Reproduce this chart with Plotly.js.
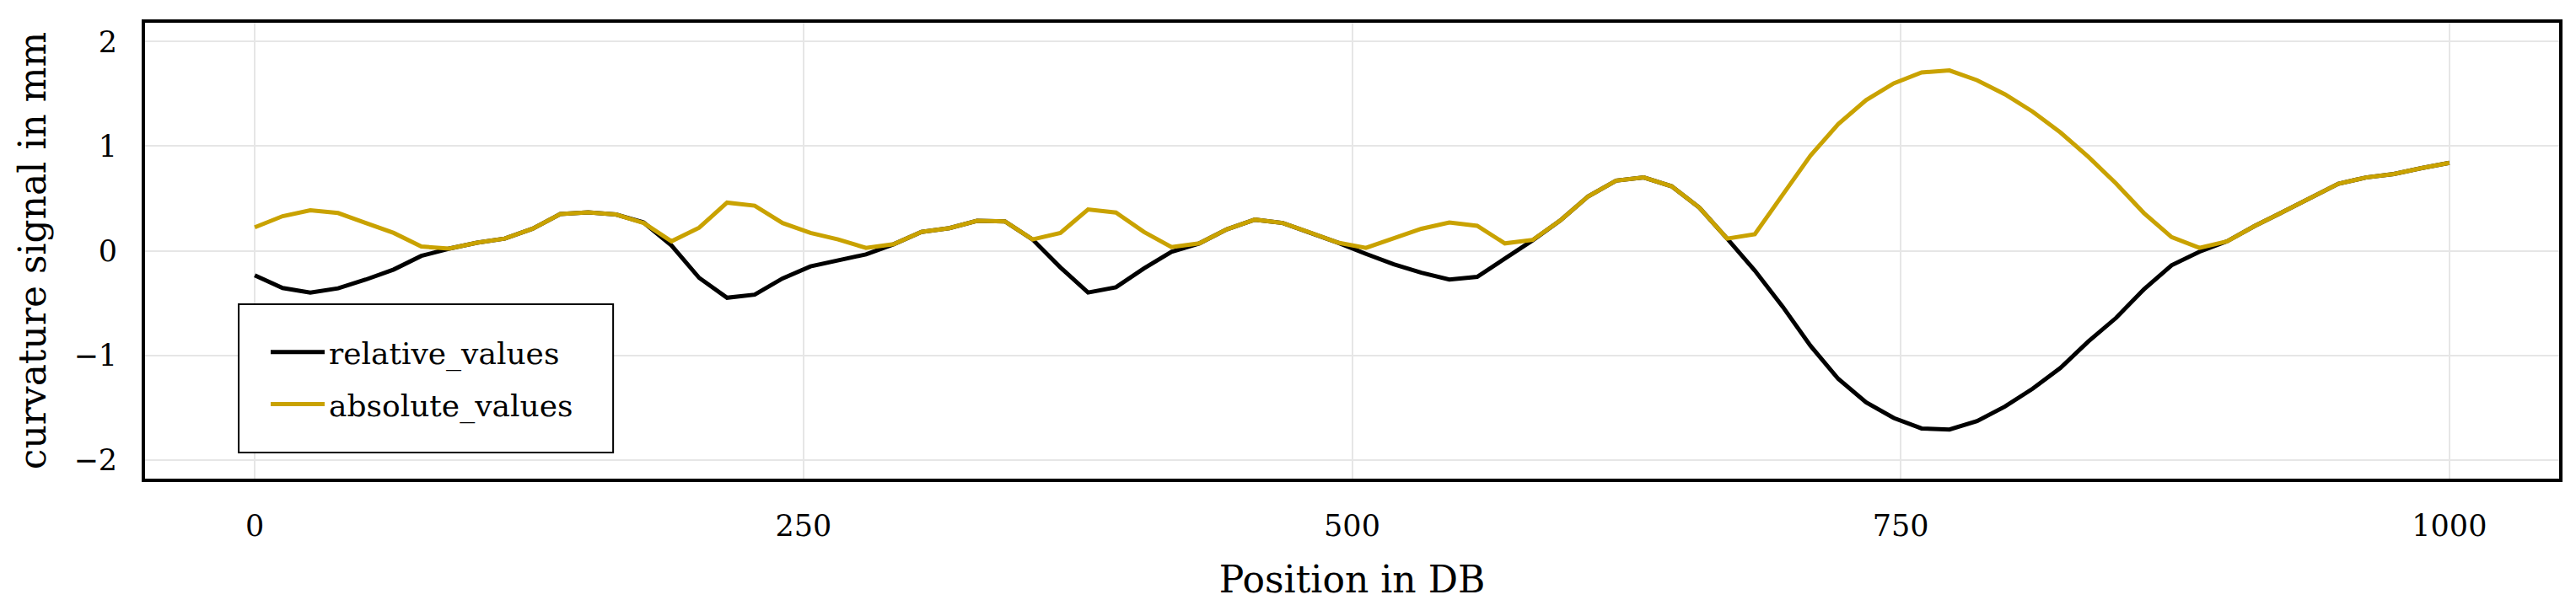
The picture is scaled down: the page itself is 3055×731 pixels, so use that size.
<!DOCTYPE html>
<html>
<head>
<meta charset="utf-8">
<script src="https://cdn.plot.ly/plotly-3.0.1.min.js"></script>
<style>
  html, body { margin: 0; padding: 0; background: #ffffff; }
  #chart { width: 3055px; height: 731px; }
</style>
</head>
<body>
<div id="chart"></div>
<script>
// Positions in DB (80 samples from 0 to 1000)
const positions = [
  0.0, 12.7, 25.3, 38.0, 50.6, 63.3, 75.9, 88.6, 101.3, 113.9,
  126.6, 139.2, 151.9, 164.6, 177.2, 189.9, 202.5, 215.2, 227.8, 240.5,
  253.2, 265.8, 278.5, 291.1, 303.8, 316.5, 329.1, 341.8, 354.4, 367.1,
  379.7, 392.4, 405.1, 417.7, 430.4, 443.0, 455.7, 468.4, 481.0, 493.7,
  506.3, 519.0, 531.6, 544.3, 557.0, 569.6, 582.3, 594.9, 607.6, 620.3,
  632.9, 645.6, 658.2, 670.9, 683.5, 696.2, 708.9, 721.5, 734.2, 746.8,
  759.5, 772.2, 784.8, 797.5, 810.1, 822.8, 835.4, 848.1, 860.8, 873.4,
  886.1, 898.7, 911.4, 924.1, 936.7, 949.4, 962.0, 974.7, 987.3, 1000.0
];

const relativeValues = [
  -0.235, -0.357, -0.400, -0.360, -0.276, -0.180, -0.050, 0.020, 0.076, 0.116,
  0.210, 0.350, 0.367, 0.346, 0.270, 0.050, -0.260, -0.450, -0.420, -0.265,
  -0.150, -0.095, -0.035, 0.062, 0.180, 0.216, 0.286, 0.280, 0.108, -0.160,
  -0.400, -0.350, -0.170, -0.010, 0.070, 0.205, 0.297, 0.265, 0.173, 0.076,
  -0.030, -0.130, -0.210, -0.275, -0.250, -0.080, 0.100, 0.290, 0.520, 0.670,
  0.700, 0.616, 0.413, 0.116, -0.190, -0.535, -0.910, -1.225, -1.450, -1.600,
  -1.700, -1.710, -1.630, -1.490, -1.320, -1.120, -0.870, -0.643, -0.370, -0.140,
  -0.010, 0.090, 0.238, 0.370, 0.510, 0.640, 0.700, 0.734, 0.790, 0.840
];

const absoluteValues = [
  0.224, 0.330, 0.386, 0.360, 0.265, 0.170, 0.040, 0.020, 0.076, 0.116,
  0.210, 0.350, 0.367, 0.346, 0.265, 0.090, 0.220, 0.460, 0.430, 0.265,
  0.170, 0.108, 0.027, 0.062, 0.180, 0.216, 0.286, 0.280, 0.108, 0.170,
  0.395, 0.365, 0.180, 0.035, 0.070, 0.205, 0.297, 0.265, 0.173, 0.076,
  0.027, 0.124, 0.210, 0.270, 0.238, 0.070, 0.103, 0.290, 0.520, 0.670,
  0.700, 0.616, 0.413, 0.116, 0.157, 0.535, 0.910, 1.210, 1.440, 1.600,
  1.705, 1.724, 1.630, 1.495, 1.330, 1.130, 0.900, 0.643, 0.360, 0.130,
  0.027, 0.090, 0.238, 0.370, 0.510, 0.640, 0.700, 0.734, 0.790, 0.840
];

const seriesNames = ['relative_values', 'absolute_values'];
const xTickVals = [0, 250, 500, 750, 1000];
const yTickVals = [-2, -1, 0, 1, 2];
const yTickText = ['\u22122', '\u22121', '0', '1', '2'];

const FONT = 'DejaVu Serif, Liberation Serif, serif';

const traces = [
  {
    x: positions, y: relativeValues, type: 'scatter', mode: 'lines',
    name: seriesNames[0], legendgroup: 'g1',
    line: { color: '#000000', width: 5 }
  },
  {
    x: positions, y: absoluteValues, type: 'scatter', mode: 'lines',
    name: seriesNames[1], legendgroup: 'g2',
    line: { color: '#C9A200', width: 5 }
  }
];

const layout = {
  width: 3055, height: 731,
  paper_bgcolor: '#ffffff', plot_bgcolor: '#ffffff',
  margin: { l: 172, r: 20, t: 27, b: 163, pad: 0 },
  font: { family: FONT, color: '#000000', size: 35 },
  showlegend: true,
  legend: {
    x: 0.0503, xanchor: 'left', y: 0.333, yanchor: 'top',
    bgcolor: 'rgba(0,0,0,0)', borderwidth: 0,
    font: { family: FONT, size: 36, color: '#000000' },
    itemwidth: 64,
    traceorder: 'grouped', tracegroupgap: 12
  },
  xaxis: {
    range: [-50, 1050],
    tickvals: xTickVals, ticktext: xTickVals.map(String),
    showgrid: true, gridcolor: '#e6e6e6', gridwidth: 2,
    zeroline: false,
    showline: true, linecolor: '#000000', linewidth: 4, mirror: true,
    ticks: 'outside', ticklen: 22, tickcolor: 'rgba(0,0,0,0)',
    tickfont: { family: FONT, size: 35, color: '#000000' },
    title: { text: 'Position in DB', font: { family: FONT, size: 44, color: '#000000' }, standoff: 30 }
  },
  yaxis: {
    range: [-2.18, 2.18],
    tickvals: yTickVals, ticktext: yTickText,
    showgrid: true, gridcolor: '#e6e6e6', gridwidth: 2,
    zeroline: false,
    showline: true, linecolor: '#000000', linewidth: 4, mirror: true,
    ticks: 'outside', ticklen: 22, tickcolor: 'rgba(0,0,0,0)',
    tickfont: { family: FONT, size: 35, color: '#000000' },
    title: { text: 'curvature signal in mm', font: { family: FONT, size: 44, color: '#000000' }, standoff: 20 }
  },
  shapes: [
    {
      type: 'rect', xref: 'paper', yref: 'paper',
      x0: 0.0388, x1: 0.1939, y0: 0.0573, y1: 0.3826,
      fillcolor: '#ffffff', line: { color: '#000000', width: 2 },
      layer: 'above'
    }
  ]
};

Plotly.newPlot('chart', traces, layout, { displayModeBar: false, staticPlot: true });
</script>
</body>
</html>
